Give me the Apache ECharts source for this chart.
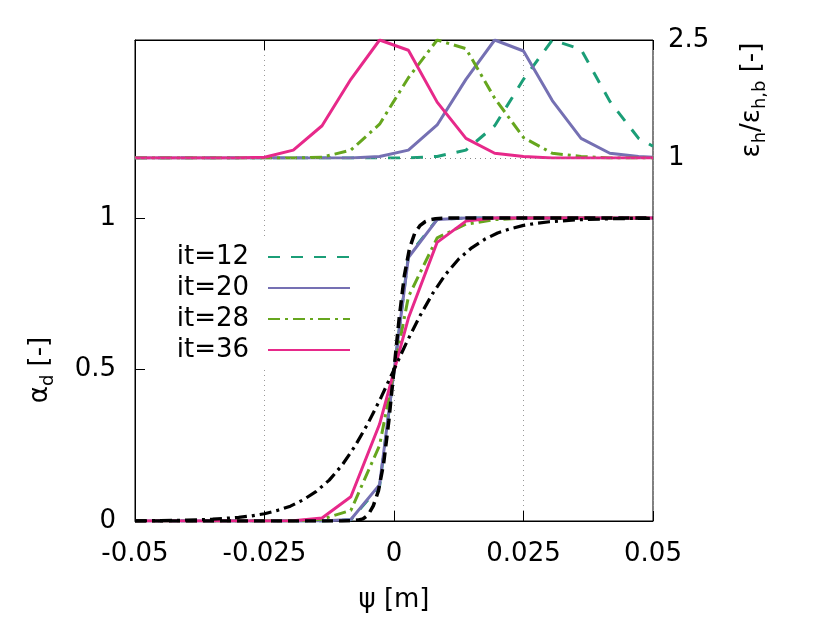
<!DOCTYPE html>
<html>
<head>
<meta charset="utf-8">
<script src="https://cdn.jsdelivr.net/npm/echarts@6/dist/echarts.min.js"></script>
<style>
  html, body { margin: 0; background: #fff; }
  #chart { width: 830px; height: 623px; }
</style>
</head>
<body>
<div id="chart"></div>
<script>
// cell centres (+ boundary points) along psi [m]
const psi = [-0.05, -0.04722, -0.04167, -0.03611, -0.03056, -0.025, -0.01944, -0.01389, -0.00833, -0.00278,
  0.00278, 0.00833, 0.01389, 0.01944, 0.025, 0.03056, 0.03611, 0.04167, 0.04722, 0.05];

// top panel: eps_h / eps_h,b
const epsIt12 = [1, 1, 1, 1, 1, 1, 1, 1, 1, 1, 1, 1.02, 1.10, 1.41, 2.0, 2.5, 2.38, 1.72, 1.25, 1.15];
const epsIt20 = [1, 1, 1, 1, 1, 1, 1, 1, 1, 1.02, 1.10, 1.42, 2.0, 2.5, 2.36, 1.73, 1.25, 1.06, 1.02, 1.01];
const epsIt28 = [1, 1, 1, 1, 1, 1, 1, 1.01, 1.10, 1.43, 2.02, 2.5, 2.39, 1.76, 1.26, 1.06, 1.02, 1, 1, 1];
const epsIt36 = [1, 1, 1, 1, 1, 1.01, 1.10, 1.41, 2.0, 2.5, 2.37, 1.71, 1.25, 1.06, 1.02, 1, 1, 1, 1, 1];

// bottom panel: alpha_d
const alphaIt12 = [0, 0, 0, 0, 0, 0, 0, 0, 0.004, 0.115, 0.875, 0.996, 1, 1, 1, 1, 1, 1, 1, 1];
const alphaIt20 = [0, 0, 0, 0, 0, 0, 0, 0, 0.005, 0.12, 0.87, 0.995, 1, 1, 1, 1, 1, 1, 1, 1];
const alphaIt28 = [0, 0, 0, 0, 0, 0, 0, 0.006, 0.035, 0.25, 0.74, 0.935, 0.98, 0.995, 1, 1, 1, 1, 1, 1];
const alphaIt36 = [0, 0, 0, 0, 0, 0, 0.001, 0.01, 0.08, 0.32, 0.67, 0.92, 0.99, 1, 1, 1, 1, 1, 1, 1];

// black reference profiles
const psiSharp = [-0.05, -0.01, -0.008, -0.007, -0.006, -0.005, -0.004, -0.003, -0.002, -0.001, 0,
  0.001, 0.002, 0.003, 0.004, 0.005, 0.006, 0.007, 0.008, 0.01, 0.05];
const alphaSharp = [0, 0, 0.001, 0.003, 0.007, 0.02, 0.05, 0.10, 0.19, 0.33, 0.5,
  0.67, 0.81, 0.90, 0.95, 0.975, 0.988, 0.995, 0.998, 1, 1];

const psiWide = [-0.05, -0.0475, -0.045, -0.0425, -0.04, -0.0375, -0.035, -0.0325, -0.03, -0.0275,
  -0.025, -0.0225, -0.02, -0.0175, -0.015, -0.0125, -0.01, -0.0075, -0.005, -0.0025, 0,
  0.0025, 0.005, 0.0075, 0.01, 0.0125, 0.015, 0.0175, 0.02, 0.0225, 0.025,
  0.0275, 0.03, 0.0325, 0.035, 0.0375, 0.04, 0.0425, 0.045, 0.0475, 0.05];
const alphaWide = [0.0006, 0.0009, 0.0013, 0.002, 0.003, 0.004, 0.006, 0.009, 0.012, 0.017,
  0.024, 0.035, 0.049, 0.070, 0.098, 0.135, 0.185, 0.248, 0.323, 0.408, 0.5,
  0.592, 0.677, 0.752, 0.815, 0.865, 0.902, 0.930, 0.951, 0.965, 0.976,
  0.983, 0.988, 0.991, 0.994, 0.996, 0.997, 0.998, 0.9987, 0.9991, 0.9994];

const legendNames = ["it=12", "it=20", "it=28", "it=36"];
const xTicks = [-0.05, 0.05];
const alphaTicks = [0, 0.5, 1];
const epsTicks = [1, 2.5];

const FONT = "DejaVu Sans";
const zip = (xs, ys) => xs.map((x, i) => [x, ys[i]]);

const styles = [
  { color: "#1b9e77", type: [12, 11] },
  { color: "#7570b3", type: "solid" },
  { color: "#66a61e", type: [12, 5, 3, 5] },
  { color: "#e7298a", type: "solid" }
];
const epsData = [epsIt12, epsIt20, epsIt28, epsIt36];
const alphaData = [alphaIt12, alphaIt20, alphaIt28, alphaIt36];

const series = [];
legendNames.forEach((name, i) => {
  const st = styles[i];
  series.push({
    name: name,
    type: "line",
    xAxisIndex: 0,
    yAxisIndex: 0,
    symbol: "none",
    data: zip(psi, alphaData[i]),
    itemStyle: { color: st.color },
    lineStyle: { color: st.color, width: 3, type: st.type }
  });
  series.push({
    name: name,
    type: "line",
    xAxisIndex: 1,
    yAxisIndex: 1,
    symbol: "none",
    data: zip(psi, epsData[i]),
    itemStyle: { color: st.color },
    lineStyle: { color: st.color, width: 3, type: st.type },
    markLine: i === 0 ? {
      silent: true,
      symbol: ["none", "none"],
      label: { show: false },
      lineStyle: { color: "#888", type: [1, 4], width: 1 },
      data: [{ yAxis: 1 }]
    } : undefined
  });
});
// black profiles
series.push({
  type: "line",
  xAxisIndex: 0,
  yAxisIndex: 0,
  symbol: "none",
  data: zip(psiWide, alphaWide),
  lineStyle: { color: "#000", width: 3.2, type: [12, 5, 3, 5] }
});
series.push({
  type: "line",
  xAxisIndex: 0,
  yAxisIndex: 0,
  symbol: "none",
  data: zip(psiSharp, alphaSharp),
  lineStyle: { color: "#000", width: 3.5, type: [11, 6] }
});

const chart = echarts.init(document.getElementById("chart"));
chart.setOption({
  animation: false,
  backgroundColor: "#fff",
  textStyle: { fontFamily: FONT },
  grid: [
    { left: 135, top: 40, width: 518, height: 481, show: true, borderColor: "#000", borderWidth: 1, outerBoundsMode: "none" },
    { left: 135, top: 40, width: 518, height: 118, outerBoundsMode: "none" }
  ],
  legend: {
    data: legendNames,
    orient: "vertical",
    align: "right",
    right: 471,
    top: 240,
    itemWidth: 82,
    itemHeight: 14,
    itemGap: 5,
    padding: [4, 8, 4, 12],
    backgroundColor: "#fff",
    selectedMode: false,
    itemStyle: { opacity: 0, color: "rgba(0,0,0,0)", borderWidth: 0 },
    textStyle: { fontSize: 26, fontFamily: FONT, color: "#000", lineHeight: 26, padding: [0, 14, 0, 0] }
  },
  xAxis: [
    {
      gridIndex: 0,
      type: "value",
      min: xTicks[0],
      max: xTicks[1],
      interval: 0.025,
      axisLine: { onZero: false, lineStyle: { color: "#000" } },
      axisTick: { inside: true, length: 10, lineStyle: { color: "#000" } },
      axisLabel: { fontSize: 26, color: "#000", margin: 20, showMinLabel: true, showMaxLabel: true },
      splitLine: { show: true, lineStyle: { color: "#999", type: [1, 4], width: 1 } }
    },
    {
      gridIndex: 1,
      type: "value",
      position: "top",
      min: xTicks[0],
      max: xTicks[1],
      interval: 0.025,
      axisLine: { onZero: false, lineStyle: { color: "#000" } },
      axisTick: { inside: true, length: 10, lineStyle: { color: "#000" } },
      axisLabel: { show: false },
      splitLine: { show: false }
    }
  ],
  yAxis: [
    {
      gridIndex: 0,
      type: "value",
      min: 0,
      max: 1.588,
      axisLine: { show: true, onZero: false, lineStyle: { color: "#000" } },
      axisTick: { show: true, inside: true, length: 10, customValues: alphaTicks, lineStyle: { color: "#000" } },
      axisLabel: { fontSize: 26, color: "#000", margin: 19, customValues: alphaTicks },
      splitLine: { show: false }
    },
    {
      gridIndex: 1,
      type: "value",
      position: "right",
      min: 1,
      max: 2.5,
      axisLine: { show: false, onZero: false },
      axisTick: { show: true, inside: true, length: 10, customValues: epsTicks, lineStyle: { color: "#000" } },
      axisLabel: { fontSize: 26, color: "#000", margin: 15, customValues: epsTicks },
      splitLine: { show: false }
    }
  ],
  graphic: [
    {
      type: "text",
      x: 394,
      y: 600,
      style: { text: "ψ [m]", font: "26px 'DejaVu Sans'", fill: "#000", align: "center", verticalAlign: "middle" }
    },
    {
      type: "text",
      x: 40,
      y: 370,
      rotation: Math.PI / 2,
      style: {
        text: "{a|α}{s|d}{a| [-]}",
        align: "center",
        verticalAlign: "middle",
        rich: {
          a: { fontSize: 26, fontFamily: FONT, fill: "#000", lineHeight: 34 },
          s: { fontSize: 18, fontFamily: FONT, fill: "#000", lineHeight: 18, verticalAlign: "bottom" }
        }
      }
    },
    {
      type: "text",
      x: 752,
      y: 100,
      rotation: Math.PI / 2,
      style: {
        text: "{a|ε}{s|h}{a|/ε}{s|h,b}{a| [-]}",
        align: "center",
        verticalAlign: "middle",
        rich: {
          a: { fontSize: 26, fontFamily: FONT, fill: "#000", lineHeight: 34 },
          s: { fontSize: 18, fontFamily: FONT, fill: "#000", lineHeight: 18, verticalAlign: "bottom" }
        }
      }
    }
  ],
  series: series
});
</script>
</body>
</html>
